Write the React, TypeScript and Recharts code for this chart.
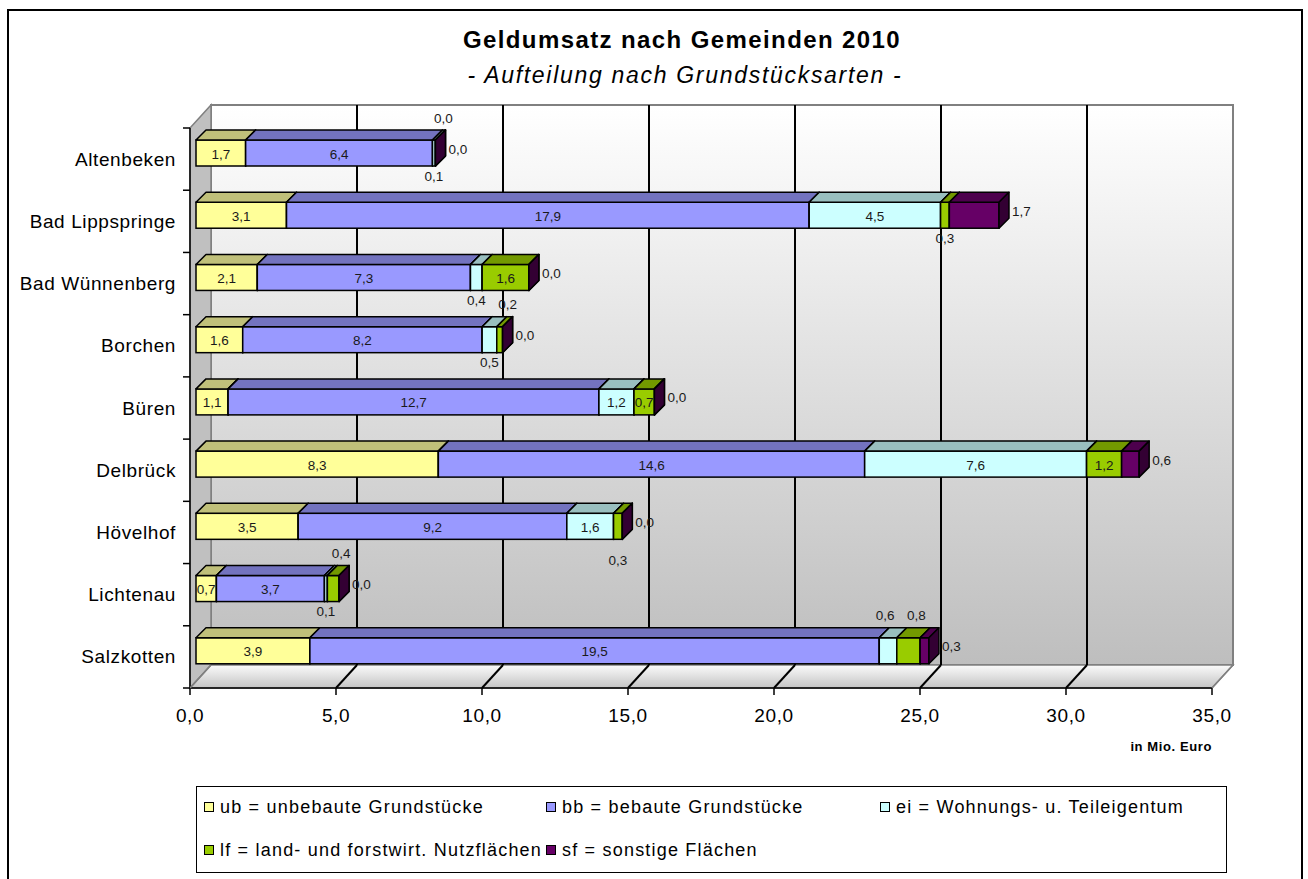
import { Bar, BarChart, CartesianGrid, LabelList, XAxis, YAxis } from 'recharts'

const gemeinden = ['Altenbeken', 'Bad Lippspringe', 'Bad Wünnenberg', 'Borchen', 'Büren', 'Delbrück', 'Hövelhof', 'Lichtenau', 'Salzkotten']
const ub = [1.7, 3.1, 2.1, 1.6, 1.1, 8.3, 3.5, 0.7, 3.9]
const bb = [6.4, 17.9, 7.3, 8.2, 12.7, 14.6, 9.2, 3.7, 19.5]
const ei = [0.1, 4.5, 0.4, 0.5, 1.2, 7.6, 1.6, 0.1, 0.6]
const lf = [0.0, 0.3, 1.6, 0.2, 0.7, 1.2, 0.3, 0.4, 0.8]
const sf = [0.0, 1.7, 0.0, 0.0, 0.0, 0.6, 0.0, 0.0, 0.3]
const xTicks = [0, 5, 10, 15, 20, 25, 30, 35]

const series = [
  { key: 'ub', name: 'ub = unbebaute Grundstücke', front: '#FFFF99', top: '#C0C07A', side: '#8A8A55' },
  { key: 'bb', name: 'bb = bebaute Grundstücke', front: '#9999FF', top: '#7373BF', side: '#4D4D80' },
  { key: 'ei', name: 'ei = Wohnungs- u. Teileigentum', front: '#CCFFFF', top: '#99BFBF', side: '#668080' },
  { key: 'lf', name: 'lf = land- und forstwirt. Nutzflächen', front: '#99CC00', top: '#739900', side: '#4D6600' },
  { key: 'sf', name: 'sf = sonstige Flächen', front: '#660066', top: '#4D004D', side: '#330033' },
]

// where small values were moved out of the bar (sf labels always sit right of the bar)
const labelPlacement: Record<string, string> = {
  'Altenbeken|ei': 'below',
  'Altenbeken|lf': 'above',
  'Bad Lippspringe|lf': 'below',
  'Bad Wünnenberg|ei': 'below',
  'Borchen|ei': 'below',
  'Borchen|lf': 'above',
  'Hövelhof|lf': 'belowFar',
  'Lichtenau|ei': 'below',
  'Lichtenau|lf': 'above',
  'Salzkotten|ei': 'above',
  'Salzkotten|lf': 'above',
}

const data = gemeinden.map((name, i) => ({ name, ub: ub[i], bb: bb[i], ei: ei[i], lf: lf[i], sf: sf[i] }))

const W = 1308
const H = 879
const PLOT_LEFT = 190
const PLOT_TOP = 128
const PLOT_RIGHT = 1212
const PLOT_BOTTOM = 688
const PLOT_W = PLOT_RIGHT - PLOT_LEFT
const PLOT_H = PLOT_BOTTOM - PLOT_TOP
const X_MAX = 35
const DX = 21
const DY = -23
const BAR_DX = 6
const BAR_DY = -6
const DEPTH = 10
const BAND = PLOT_H / gemeinden.length
const FONT = "'Liberation Sans', Arial, sans-serif"

const fmt = (v: number) => Number(v).toFixed(1).replace('.', ',')

function Box3D(props: any) {
  const { x, y, width, height, c } = props
  if (x == null || y == null) return null
  const w = Math.max(Number(width) || 0, 0)
  const h = Number(height) || 0
  const x0 = x + BAR_DX
  const y0 = y + BAR_DY
  const topPts = `${x0},${y0} ${x0 + DEPTH},${y0 - DEPTH} ${x0 + w + DEPTH},${y0 - DEPTH} ${x0 + w},${y0}`
  const sidePts = `${x0 + w},${y0} ${x0 + w + DEPTH},${y0 - DEPTH} ${x0 + w + DEPTH},${y0 + h - DEPTH} ${x0 + w},${y0 + h}`
  return (
    <g>
      <rect x={x0} y={y0} width={w} height={h} fill={c.front} stroke="#000" strokeWidth={1.5} />
      <polygon points={topPts} fill={c.top} stroke="#000" strokeWidth={1.5} strokeLinejoin="round" />
      <polygon points={sidePts} fill={c.side} stroke="#000" strokeWidth={1.5} strokeLinejoin="round" />
    </g>
  )
}

const makeLabel = (key: string) => (props: any) => {
  const vb = props.viewBox ?? props
  const { x, y, width, height } = vb
  if (x == null || y == null) return null
  const cat = gemeinden[props.index]
  const text = fmt(props.value)
  const fx = x + BAR_DX
  const fy = y + BAR_DY
  const cx = fx + width / 2
  const cy = fy + height / 2
  const place = key === 'sf' ? 'right' : labelPlacement[`${cat}|${key}`] ?? 'inside'
  let tx = cx
  let ty = cy + 1
  let anchor: 'middle' | 'start' = 'middle'
  if (place === 'right') {
    tx = fx + width + 13
    ty = cy - 4
    anchor = 'start'
  } else if (place === 'above') {
    tx = cx + (key === 'lf' ? 8 : -3)
    ty = cy - 35
  } else if (place === 'below') {
    ty = cy + 23
  } else if (place === 'belowFar') {
    ty = cy + 34
  }
  return (
    <text x={tx} y={ty} textAnchor={anchor} dominantBaseline="central" fontSize={13.5} fill="#1a1a1a" fontFamily={FONT}>
      {text}
    </text>
  )
}

const XTick = (props: any) => {
  const { x, payload } = props
  const v = payload.value
  const edge = v === 0 || v === X_MAX
  return (
    <g>
      <line x1={x} y1={PLOT_BOTTOM} x2={x + DX} y2={PLOT_BOTTOM + DY} stroke={edge ? '#808080' : '#000'} strokeWidth={edge ? 1.5 : 2} />
      <text x={x} y={PLOT_BOTTOM + 27} textAnchor="middle" dominantBaseline="central" fontSize={19} letterSpacing={0.6} fill="#000" fontFamily={FONT}>
        {fmt(v)}
      </text>
    </g>
  )
}

const YTick = (props: any) => {
  const { y, payload, index } = props
  const half = BAND / 2
  return (
    <g>
      <line x1={PLOT_LEFT - 7} x2={PLOT_LEFT} y1={y - half} y2={y - half} stroke="#000" strokeWidth={1.5} />
      {index === gemeinden.length - 1 && (
        <line x1={PLOT_LEFT - 7} x2={PLOT_LEFT} y1={y + half} y2={y + half} stroke="#000" strokeWidth={1.5} />
      )}
      <text x={PLOT_LEFT - 14} y={y} textAnchor="end" dominantBaseline="central" fontSize={19} letterSpacing={0.6} fill="#000" fontFamily={FONT}>
        {payload.value}
      </text>
    </g>
  )
}

const gridTicks = xTicks.filter((t) => t > 0 && t < X_MAX)

export default function App() {
  return (
    <div style={{ position: 'relative', width: W, height: H, overflow: 'hidden', background: '#fff', fontFamily: FONT }}>
      <style>{'body{margin:0}'}</style>
      {/* chart frame */}
      <div style={{ position: 'absolute', left: 7, top: 9, width: 1292, height: 900, border: '2px solid #000' }} />

      {/* 3D walls */}
      <svg style={{ position: 'absolute', left: 0, top: 0 }} width={W} height={H}>
        <defs>
          <linearGradient id="wallGrad" x1="0" y1="0" x2="0" y2="1">
            <stop offset="0" stopColor="#ffffff" />
            <stop offset="1" stopColor="#bebebe" />
          </linearGradient>
          <linearGradient id="floorGrad" x1="0" y1="0" x2="0" y2="1">
            <stop offset="0" stopColor="#fbfbfb" />
            <stop offset="1" stopColor="#c4c4c4" />
          </linearGradient>
        </defs>
        <rect x={PLOT_LEFT + DX} y={PLOT_TOP + DY} width={PLOT_W} height={PLOT_H} fill="url(#wallGrad)" stroke="#808080" strokeWidth={2} />
        <polygon
          points={`${PLOT_LEFT},${PLOT_TOP} ${PLOT_LEFT + DX},${PLOT_TOP + DY} ${PLOT_LEFT + DX},${PLOT_BOTTOM + DY} ${PLOT_LEFT},${PLOT_BOTTOM}`}
          fill="#c0c0c0"
          stroke="#808080"
          strokeWidth={1.5}
        />
        <polygon
          points={`${PLOT_LEFT},${PLOT_BOTTOM} ${PLOT_LEFT + DX},${PLOT_BOTTOM + DY} ${PLOT_RIGHT + DX},${PLOT_BOTTOM + DY} ${PLOT_RIGHT},${PLOT_BOTTOM}`}
          fill="url(#floorGrad)"
          stroke="#808080"
          strokeWidth={1.5}
        />
      </svg>

      {/* titles */}
      <div style={{ position: 'absolute', left: 282, top: 26, width: 800, textAlign: 'center', fontSize: 24, fontWeight: 'bold', lineHeight: '28px', letterSpacing: 1.4 }}>
        Geldumsatz nach Gemeinden 2010
      </div>
      <div style={{ position: 'absolute', left: 285, top: 61, width: 800, textAlign: 'center', fontSize: 23, fontStyle: 'italic', lineHeight: '28px', letterSpacing: 1.7 }}>
        - Aufteilung nach Grundstücksarten -
      </div>

      <div style={{ position: 'absolute', left: 0, top: 0 }}>
        <BarChart width={W} height={H} data={data} layout="vertical" margin={{ top: PLOT_TOP, right: W - PLOT_RIGHT, bottom: H - PLOT_BOTTOM - 30, left: 0 }}>
          <CartesianGrid
            horizontal={false}
            x={PLOT_LEFT + DX}
            y={PLOT_TOP + DY}
            width={PLOT_W}
            height={PLOT_H}
            stroke="#000"
            strokeWidth={2}
            fill="none"
            verticalCoordinatesGenerator={(args: any) => {
              const sc = args?.xAxis?.scale
              const toPx = (t: number) => (typeof sc === 'function' ? sc(t) : args.offset.left + (t / X_MAX) * args.offset.width)
              return gridTicks.map((t) => toPx(t) + DX)
            }}
          />
          <XAxis
            type="number"
            domain={[0, X_MAX]}
            ticks={xTicks}
            interval={0}
            height={30}
            axisLine={{ stroke: '#000', strokeWidth: 1.5 }}
            tickLine={{ stroke: '#000', strokeWidth: 1.5 }}
            tickSize={7}
            tick={<XTick />}
          />
          <YAxis
            type="category"
            dataKey="name"
            width={PLOT_LEFT}
            interval={0}
            axisLine={{ stroke: '#000', strokeWidth: 1.5 }}
            tickLine={false}
            tick={<YTick />}
          />
          {series.map((s) => (
            <Bar
              key={s.key}
              dataKey={s.key}
              name={s.name}
              stackId="a"
              barSize={26}
              fill={s.front}
              isAnimationActive={false}
              shape={(p: any) => <Box3D {...p} c={s} />}
            >
              <LabelList dataKey={s.key} content={makeLabel(s.key)} />
            </Bar>
          ))}
        </BarChart>
      </div>

      {/* axis title */}
      <div style={{ position: 'absolute', right: W - PLOT_RIGHT, top: 739, fontSize: 13, fontWeight: 'bold', lineHeight: '16px', letterSpacing: 0.6 }}>
        in Mio. Euro
      </div>

      {/* legend */}
      <div style={{ position: 'absolute', left: 196, top: 786, width: 1031, height: 87, border: '1.5px solid #000', boxSizing: 'border-box', background: '#fff' }}>
        {series.map((s, i) => {
          const row = i < 3 ? 0 : 1
          const col = i < 3 ? i : i - 3
          const left = [7, 349, 683][col]
          const top = row === 0 ? 20 : 63
          return (
            <div key={s.key} style={{ position: 'absolute', left, top: top - 11, height: 22, display: 'flex', alignItems: 'center', whiteSpace: 'nowrap' }}>
              <span style={{ display: 'inline-block', width: 8, height: 8, background: s.front, border: '1px solid #000', marginRight: 6 }} />
              <span style={{ fontSize: 18, letterSpacing: 1.2 }}>{s.name}</span>
            </div>
          )
        })}
      </div>
    </div>
  )
}
